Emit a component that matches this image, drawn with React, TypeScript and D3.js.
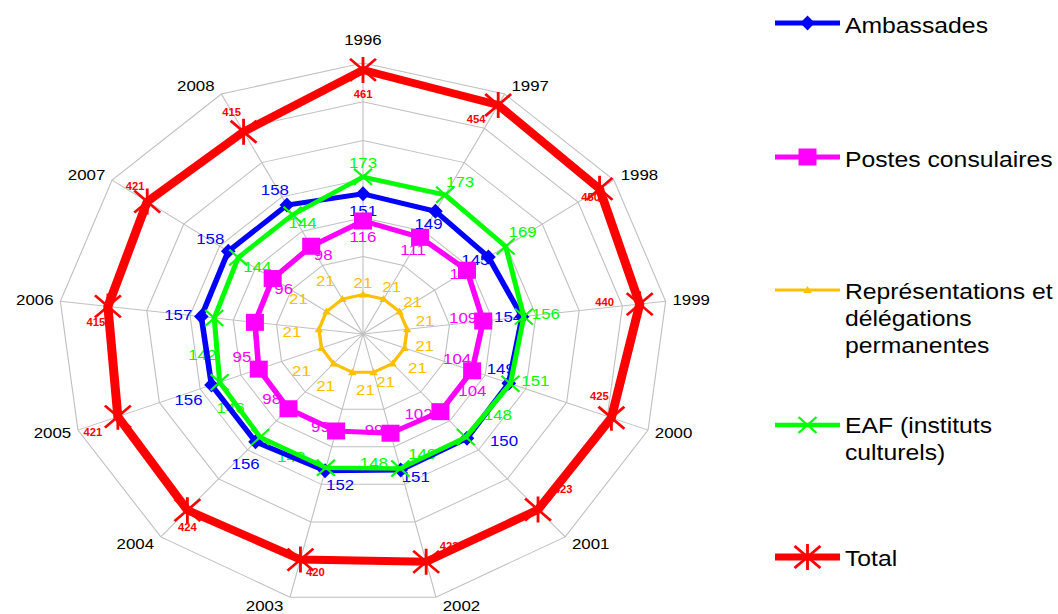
import React from 'react';
import * as d3 from 'd3';

// ---------- data ----------
const years = ['1996', '1997', '1998', '1999', '2000', '2001', '2002', '2003', '2004', '2005', '2006', '2007', '2008'];
const ambassades = [151, 149, 145, 154, 149, 150, 151, 152, 156, 156, 157, 158, 158];
const postesConsulaires = [116, 111, 115, 109, 104, 104, 102, 99, 99, 98, 95, 96, 98];
const representations = [21, 21, 21, 21, 21, 21, 21, 21, 21, 21, 21, 21, 21];
const eaf = [173, 173, 169, 156, 151, 148, 149, 148, 148, 146, 142, 144, 144];
const totalValues = [461, 454, 450, 440, 425, 423, 423, 420, 424, 421, 415, 421, 415];
const legendTexts = [
  ['Ambassades'],
  ['Postes consulaires'],
  ['Représentations et', 'délégations', 'permanentes'],
  ['EAF (instituts', 'culturels)'],
  ['Total'],
];

// ---------- label nudges (page px, relative to each point) ----------
const nudgeAmb = [[0, 17], [-7, 13], [-13, 3], [-14, 0], [-8, -14], [37, 3], [15, 7], [15, 14], [-10, 22], [-23, 15], [-23, -2], [-18, -12], [-12, -15]];
const nudgePostes = [[0, 16], [-7, 12], [-4, 4], [-20, -3], [-15, -12], [32, -21], [28, -19], [38, -1], [32, 18], [13, 30], [-13, 35], [11, 10], [12, 9]];
const nudgeRep = [[0, -12], [8, -12], [13, -10], [18, -8], [20, -2], [25, 4], [12, 10], [13, 18], [-8, 22], [-20, 23], [-27, 3], [-28, -13], [-17, -18]];
const nudgeEaf = [[0, -14], [15, -13], [17, -15], [22, -3], [25, -3], [32, -22], [22, -15], [48, -5], [31, 20], [11, 26], [-12, 37], [19, 9], [10, 8]];
const nudgeTotal = [[0, 24], [-22, 14], [-9, 8], [-35, -2], [-12, -21], [25, -20], [23, -16], [15, 13], [0, 17], [-25, 16], [-12, 16], [-12, -15], [-12, -20]];

// ---------- layout ----------
const W = 1058;
const H = 614;
const SX = 1.125; // horizontal stretch of the original picture
const CX = 363 / SX;
const CY = 334;
const R = 271;
const RINGS = 7;
const FONT = '"Liberation Sans", Arial, Helvetica, sans-serif';

const mainScale = d3.scaleLinear().domain([-30, 320]).range([0, R]);
const totalScale = d3.scaleLinear().domain([120, 470]).range([0, R]);

const N = years.length;
const angle = (i: number) => (i * 2 * Math.PI) / N;

type MarkerKind = 'diamond' | 'square' | 'triangle' | 'cross' | 'star';

interface Series {
  name: string;
  values: number[];
  color: string;
  width: number;
  marker: MarkerKind;
  scale: d3.ScaleLinear<number, number>;
  nudges: number[][];
  labelSize: number;
  labelBold: boolean;
}

const series: Series[] = [
  { name: 'amb', values: ambassades, color: '#0000FF', width: 5, marker: 'diamond', scale: mainScale, nudges: nudgeAmb, labelSize: 15, labelBold: false },
  { name: 'postes', values: postesConsulaires, color: '#FF00FF', width: 5, marker: 'square', scale: mainScale, nudges: nudgePostes, labelSize: 15, labelBold: false },
  { name: 'rep', values: representations, color: '#FFC000', width: 3, marker: 'triangle', scale: mainScale, nudges: nudgeRep, labelSize: 15, labelBold: false },
  { name: 'eaf', values: eaf, color: '#00FF00', width: 4.5, marker: 'cross', scale: mainScale, nudges: nudgeEaf, labelSize: 15, labelBold: false },
  { name: 'total', values: totalValues, color: '#FF0000', width: 8, marker: 'star', scale: totalScale, nudges: nudgeTotal, labelSize: 10, labelBold: true },
];

function Marker({ kind, x, y, color }: { kind: MarkerKind; x: number; y: number; color: string }) {
  switch (kind) {
    case 'diamond':
      return <path d={`M${x},${y - 7.5}L${x + 6.5},${y}L${x},${y + 7.5}L${x - 6.5},${y}Z`} fill={color} />;
    case 'square':
      return <rect x={x - 8} y={y - 8.5} width={16} height={17} fill={color} />;
    case 'triangle':
      return <path d={`M${x},${y - 4}L${x + 3.8},${y + 3}L${x - 3.8},${y + 3}Z`} fill={color} />;
    case 'cross':
      return (
        <path d={`M${x - 8},${y - 8}L${x + 8},${y + 8}M${x - 8},${y + 8}L${x + 8},${y - 8}`} stroke={color} strokeWidth={2} fill="none" />
      );
    case 'star':
      return (
        <path
          d={`M${x - 11.5},${y - 11}L${x + 11.5},${y + 11}M${x - 11.5},${y + 11}L${x + 11.5},${y - 11}M${x},${y - 13}L${x},${y + 13}`}
          stroke={color}
          strokeWidth={2.5}
          fill="none"
        />
      );
  }
  return null;
}

const pt = (i: number, r: number): [number, number] => [r * Math.sin(angle(i)), -r * Math.cos(angle(i))];

export default function App() {
  const ringLine = d3
    .lineRadial<number>()
    .angle((_, i) => angle(i))
    .radius((d) => d)
    .curve(d3.curveLinearClosed);

  const rings = d3.range(1, RINGS + 1).map((k) => (k / RINGS) * R);

  const legendY = [23, 157, 290, 425, 557];
  const legendTextY = [[25], [159], [291, 318, 345], [425, 452], [558]];

  return (
    <svg width={W} height={H} style={{ position: 'absolute', left: 0, top: 0, background: '#fff' }} fontFamily={FONT}>
      <g transform={`scale(${SX},1)`}>
        <g transform={`translate(${CX},${CY})`}>
          {/* grid */}
          {rings.map((r, k) => (
            <path key={`ring${k}`} d={ringLine(years.map(() => r)) || ''} fill="none" stroke="#C0C0C0" strokeWidth={1} />
          ))}
          {years.map((_, i) => {
            const [x, y] = pt(i, R);
            return <line key={`sp${i}`} x1={0} y1={0} x2={x} y2={y} stroke="#C0C0C0" strokeWidth={1} />;
          })}
          {/* category labels */}
          {years.map((yr, i) => {
            const [vx, vy] = pt(i, R);
            const s = Math.sin(angle(i));
            const c = Math.cos(angle(i));
            let anchor = 'middle';
            let tx = vx;
            let ty = vy;
            if (Math.abs(s) < 0.1) {
              ty = vy + (c > 0 ? -23 : 23);
            } else {
              anchor = s > 0 ? 'start' : 'end';
              tx = vx + (s > 0 ? 6 : -6);
              ty = vy - c * 9;
            }
            return (
              <text key={`cat${i}`} x={tx} y={ty} textAnchor={anchor} dominantBaseline="central" fontSize={15} fill="#000">
                {yr}
              </text>
            );
          })}
          {/* data labels (beneath lines) */}
          {series.map((s) =>
            s.values.map((v, i) => {
              const [x, y] = pt(i, s.scale(v));
              const [dx, dy] = s.nudges[i];
              return (
                <text
                  key={`lab${s.name}${i}`}
                  x={x + dx / SX}
                  y={y + dy}
                  textAnchor="middle"
                  dominantBaseline="central"
                  fontSize={s.labelSize}
                  fontWeight={s.labelBold ? 'bold' : 'normal'}
                  fill={s.color}
                >
                  {v}
                </text>
              );
            })
          )}
          {/* series lines and markers */}
          {series.map((s) => {
            const line = d3
              .lineRadial<number>()
              .angle((_, i) => angle(i))
              .radius((d) => s.scale(d))
              .curve(d3.curveLinearClosed);
            return (
              <g key={`ser${s.name}`}>
                <path d={line(s.values) || ''} fill="none" stroke={s.color} strokeWidth={s.width} strokeLinejoin="miter" />
                {s.values.map((v, i) => {
                  const [x, y] = pt(i, s.scale(v));
                  return <Marker key={`m${i}`} kind={s.marker} x={x} y={y} color={s.color} />;
                })}
              </g>
            );
          })}
        </g>
        {/* legend */}
        {series.map((s, k) => {
          const x1 = 775 / SX;
          const x2 = 840 / SX;
          const y = legendY[k];
          return (
            <g key={`leg${k}`}>
              <line x1={x1} x2={x2} y1={y} y2={y} stroke={s.color} strokeWidth={s.name === 'total' ? 7 : s.width} />
              <Marker kind={s.marker} x={(x1 + x2) / 2} y={y} color={s.color} />
              {legendTexts[k].map((t, j) => (
                <text key={j} x={845 / SX} y={legendTextY[k][j]} dominantBaseline="central" fontSize={22} fill="#000">
                  {t}
                </text>
              ))}
            </g>
          );
        })}
      </g>
    </svg>
  );
}
